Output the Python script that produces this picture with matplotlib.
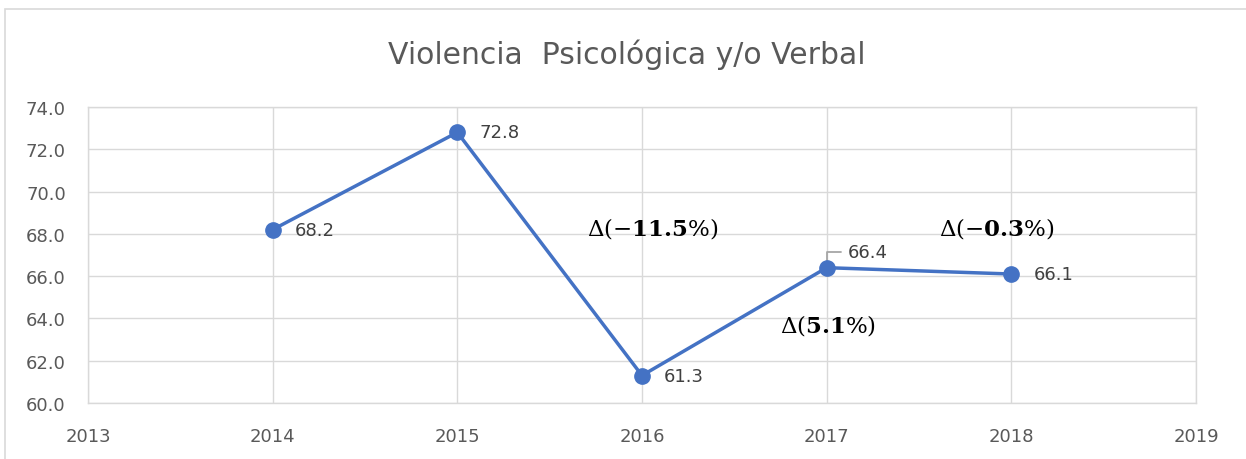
import numpy as np
import matplotlib.pyplot as plt
from matplotlib.patches import Rectangle

years = [2014, 2015, 2016, 2017, 2018]
values = [68.2, 72.8, 61.3, 66.4, 66.1]
xticks = [2013, 2014, 2015, 2016, 2017, 2018, 2019]
yticks = [60, 62, 64, 66, 68, 70, 72, 74]

# year-to-year differences shown as Δ boxes (for 2016, 2017, 2018)
deltas = np.round(np.diff(values), 1)[1:]
delta_pos = [(2016.06, 68.28), (2017.01, 63.69), (2017.92, 68.28)]

plt.rcParams['mathtext.fontset'] = 'dejavuserif'

fig = plt.figure(figsize=(12.46, 4.6), dpi=100)
ax = fig.add_axes([88/1246, 56/460, 1108/1246, 296/460])

grid = '#D9D9D9'
ax.set_xlim(2013, 2019)
ax.set_ylim(60, 74)
ax.set_xticks(xticks)
ax.set_yticks(yticks)
ax.set_yticklabels(['%.1f' % v for v in yticks])
ax.grid(True, color=grid, linewidth=1.0)
ax.set_axisbelow(True)
for s in ax.spines.values():
    s.set_color(grid)
    s.set_linewidth(1.0)
ax.tick_params(length=0, labelsize=13, labelcolor='#595959')
ax.tick_params(axis='x', pad=17)
ax.tick_params(axis='y', pad=16)

ax.plot(years, values, color='#4472C4', linewidth=2.5, marker='o',
        markersize=11, zorder=4)

# data labels
for x, y in zip(years, values):
    if x == 2017:
        continue
    ax.annotate('%.1f' % y, (x, y), xytext=(16, 0), textcoords='offset points',
                ha='left', va='center', fontsize=13, color='#404040')
ax.annotate('%.1f' % values[3], (years[3], values[3]), xytext=(15, 11),
            textcoords='offset points', ha='left', va='center',
            fontsize=13, color='#404040', zorder=3,
            arrowprops=dict(arrowstyle='-', color='#A6A6A6', lw=1.3,
                            connectionstyle='angle,angleA=0,angleB=90,rad=0',
                            shrinkA=3, shrinkB=0))

for (dx, dy), d in zip(delta_pos, deltas):
    sign = '-' if d < 0 else ''
    txt = r'$\Delta(%s\mathbf{%.1f}\%%)$' % (sign, abs(d))
    ax.text(dx, dy, txt, ha='center', va='center', fontsize=16.5, color='black')

fig.text(627/1246, 1 - 55/460, 'Violencia  Psicológica y/o Verbal',
         ha='center', va='center', fontsize=21.5, color='#595959')

# outer chart frame (top and left edges visible)
fig.patches.append(Rectangle((5/1246, -0.2), 1.2, 1.2 - 10/460,
                             transform=fig.transFigure, fill=False,
                             edgecolor=grid, linewidth=1.2))

fig.savefig('out.png', dpi=100)
